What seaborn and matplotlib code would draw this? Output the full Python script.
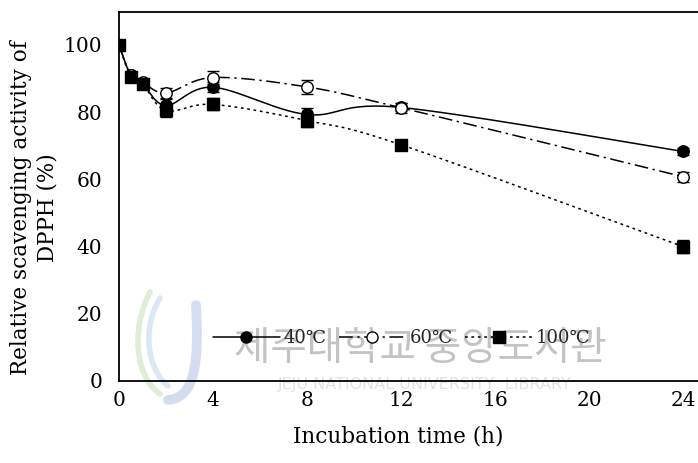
import numpy as np
import matplotlib
matplotlib.use("Agg")
import matplotlib.pyplot as plt
import seaborn as sns
from matplotlib.lines import Line2D
from matplotlib.path import Path
from matplotlib.patches import PathPatch

# Incubation times (h) and relative DPPH scavenging activity (%)
time_h = [0, 0.5, 1, 2, 4, 8, 12, 24]
act_40 = [100.0, 91.0, 88.5, 82.0, 87.4, 79.3, 81.4, 68.3]
act_60 = [100.0, 91.0, 89.0, 85.7, 90.3, 87.5, 81.3, 60.8]
act_100 = [100.0, 90.5, 88.5, 80.5, 82.3, 77.5, 70.3, 40.0]
err_40 = [0.5, 1.0, 1.0, 1.8, 1.5, 1.8, 1.2, 1.0]
err_60 = [0.5, 1.0, 1.0, 1.5, 1.8, 2.0, 1.5, 1.5]
err_100 = [0.5, 1.0, 1.5, 2.0, 1.8, 2.0, 1.0, 2.0]
series_labels = ["40\u2103", "60\u2103", "100\u2103"]
x_ticks = [0, 4, 8, 12, 16, 20, 24]
y_ticks = [0, 20, 40, 60, 80, 100]

sns.set_theme(style="white")
plt.rcParams["font.family"] = ["DejaVu Serif", "DejaVu Sans", "Noto Sans CJK KR"]
plt.rcParams["axes.unicode_minus"] = False


def smooth_path(x, y, steps=30):
    """Cubic Bezier segments with Catmull-Rom style tangents (smoothed line)."""
    x = np.asarray(x, float)
    y = np.asarray(y, float)
    n = len(x)
    px, py = [x[0]], [y[0]]
    t = np.linspace(0, 1, steps + 1)[1:]
    for i in range(n - 1):
        i0, i3 = max(i - 1, 0), min(i + 2, n - 1)
        c1x = x[i] + (x[i + 1] - x[i0]) / 6
        c1y = y[i] + (y[i + 1] - y[i0]) / 6
        c2x = x[i + 1] - (x[i3] - x[i]) / 6
        c2y = y[i + 1] - (y[i3] - y[i]) / 6
        bx = (1 - t) ** 3 * x[i] + 3 * (1 - t) ** 2 * t * c1x + 3 * (1 - t) * t ** 2 * c2x + t ** 3 * x[i + 1]
        by = (1 - t) ** 3 * y[i] + 3 * (1 - t) ** 2 * t * c1y + 3 * (1 - t) * t ** 2 * c2y + t ** 3 * y[i + 1]
        px.extend(bx)
        py.extend(by)
    return np.array(px), np.array(py)


W, H = 698, 463
fig = plt.figure(figsize=(W / 100, H / 100), dpi=100)
fig.patch.set_facecolor("white")
ax = fig.add_axes([119 / W, 82 / H, (W - 119) / W, (381 - 12) / H])
ax.patch.set_alpha(0)

# faint library watermark behind the plot
fig.text(420 / W, 1 - 349 / H, "\uc81c\uc8fc\ub300\ud559\uad50 \uc911\uc559\ub3c4\uc11c\uad00",
         family=["Noto Sans CJK KR"], fontsize=28.5, fontweight="medium", color="#c3c3c3",
         ha="center", va="center", zorder=-5)
fig.text(425 / W, 1 - 385 / H, "JEJU NATIONAL UNIVERSITY  LIBRARY",
         family=["DejaVu Sans"], fontsize=11.5, color="#e2e2e2", ha="center", va="center",
         zorder=-5)
# stylised logo strokes
logo = [
    ([(196, 305), (199, 360), (196, 398), (168, 400)], "#d3ddef", 7),
    ([(150, 292), (130, 330), (136, 378), (160, 394)], "#dfecd6", 4),
    ([(160, 298), (141, 330), (148, 370), (168, 386)], "#dbe8f3", 4),
]
for pts, col, lw in logo:
    verts = [(px_ / W, 1 - py_ / H) for px_, py_ in pts]
    path = Path(verts, [Path.MOVETO, Path.CURVE4, Path.CURVE4, Path.CURVE4])
    fig.patches.append(PathPatch(path, transform=fig.transFigure, fill=False,
                                 edgecolor=col, lw=lw, capstyle="round", zorder=-6))

lw_line = 1.1
styles = [
    dict(ls="-", marker="o", fc="black"),
    dict(ls=(0, (9, 3, 1.5, 3)), marker="o", fc="white"),
    dict(ls=(0, (1.8, 2.4)), marker="s", fc="black"),
]
series = [act_40, act_60, act_100]
errors = [err_40, err_60, err_100]

for vals, st in zip(series, styles):
    sx, sy = smooth_path(time_h, vals)
    sns.lineplot(x=sx, y=sy, ax=ax, sort=False, estimator=None, color="black",
                 linewidth=lw_line, linestyle=st["ls"], zorder=2)

for vals, errs, st in zip(series, errors, styles):
    ax.errorbar(time_h, vals, yerr=errs, fmt="none", ecolor="black", elinewidth=1.0,
                capsize=4.5, capthick=1.0, zorder=3)
    sns.scatterplot(x=time_h, y=vals, ax=ax, marker=st["marker"], s=68,
                    color=st["fc"], edgecolor="black", linewidth=1.0, zorder=4)

ax.set_xlim(0, (W - 119) / 23.5)
ax.set_ylim(0, 109.8)
ax.set_xticks(x_ticks)
ax.set_yticks(y_ticks)
ax.set_xticklabels([str(v) for v in x_ticks])
ax.set_yticklabels([str(v) for v in y_ticks])
ax.tick_params(axis="both", direction="out", length=5, width=1.0, color="black",
               labelsize=14.5, labelcolor="black")
ax.tick_params(axis="x", pad=2)
ax.tick_params(axis="y", pad=7)
for side in ["left", "bottom", "top"]:
    ax.spines[side].set_visible(True)
    ax.spines[side].set_color("black")
    ax.spines[side].set_linewidth(1.3)
ax.spines["right"].set_visible(False)
ax.grid(False)

ax.set_xlabel("Incubation time (h)", fontsize=15.5, color="black", va="center")
ax.xaxis.set_label_coords((398 - 119) / (W - 119), (381 - 437) / (381 - 12))
ax.set_ylabel("Relative scavenging activity of\nDPPH (%)", fontsize=15.5, color="black",
              va="center", linespacing=1.25)
ax.yaxis.set_label_coords((34 - 119) / (W - 119), (381 - 208) / (381 - 12))

handles = [
    Line2D([], [], color="black", lw=lw_line, ls=st["ls"], marker=st["marker"],
           markersize=8, markerfacecolor=st["fc"], markeredgecolor="black",
           markeredgewidth=1.0)
    for st in styles
]
ax.legend(handles, series_labels, loc="center left", ncol=3, frameon=False,
          bbox_to_anchor=(213 / W, 1 - 338 / H), bbox_transform=fig.transFigure,
          borderaxespad=0, borderpad=0, handlelength=3.7, handletextpad=0.2,
          columnspacing=0.7, fontsize=13)

fig.savefig("out.png", dpi=100, facecolor="white")
